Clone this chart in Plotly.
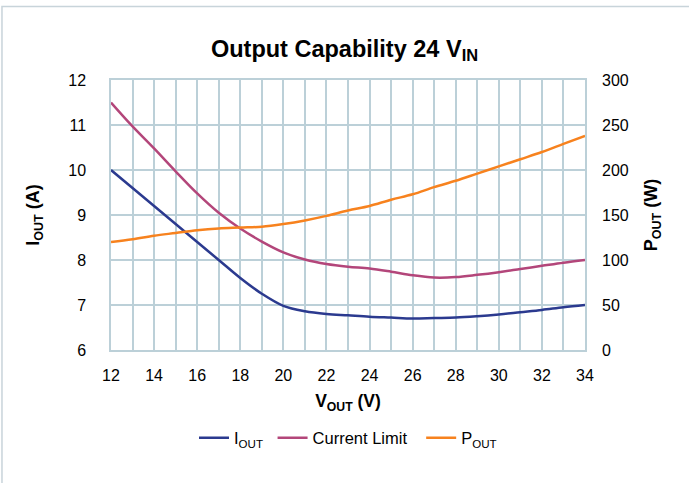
import plotly.graph_objects as go

v_out = [12, 13, 14, 15, 16, 17, 18, 19, 20, 21, 22, 23, 24, 25, 26, 27, 28, 29, 30, 31, 32, 33, 34]
i_out = [10.0, 9.6, 9.2, 8.8, 8.4, 8.0, 7.6, 7.25, 6.98, 6.86, 6.80, 6.77, 6.74, 6.72, 6.70, 6.71, 6.72, 6.75, 6.79, 6.84, 6.89, 6.95, 7.0]
current_limit = [11.5, 10.97, 10.48, 9.97, 9.48, 9.05, 8.70, 8.41, 8.17, 8.01, 7.91, 7.85, 7.81, 7.74, 7.66, 7.61, 7.62, 7.67, 7.73, 7.80, 7.87, 7.94, 8.0]
p_out = [120, 123, 127, 130, 133, 135, 136, 137, 140, 144, 149, 155, 160, 167, 173, 181, 188, 196, 204, 212, 220, 229, 238]

x_ticks = list(range(12, 35, 2))
left_ticks = [6, 7, 8, 9, 10, 11, 12]
right_ticks = [0, 50, 100, 150, 200, 250, 300]

GRID = "#BCD0D8"
FONT = "Liberation Sans, Arial, sans-serif"

fig = go.Figure()
fig.add_trace(go.Scatter(x=v_out, y=i_out, name="I<sub>OUT</sub> ", mode="lines",
                         line=dict(color="#2B3A8F", width=2.5, shape="spline")))
fig.add_trace(go.Scatter(x=v_out, y=current_limit, name="Current Limit  ", mode="lines",
                         line=dict(color="#B3467A", width=2.5, shape="spline")))
fig.add_trace(go.Scatter(x=v_out, y=p_out, name="P<sub>OUT</sub>", mode="lines", yaxis="y2",
                         line=dict(color="#F7821E", width=2.5, shape="spline")))

fig.update_layout(
    width=689, height=483,
    paper_bgcolor="white", plot_bgcolor="white",
    font=dict(family=FONT, color="black", size=16),
    margin=dict(l=111, r=104, t=80, b=133),
    title=dict(text="<b>Output Capability 24 V<sub>IN</sub></b>", x=0.5, xanchor="center",
               y=0.90, yanchor="middle", font=dict(size=23.5, family=FONT)),
    xaxis=dict(range=[12, 34], tickvals=x_ticks, showgrid=True, gridcolor=GRID, gridwidth=1.5,
               minor=dict(dtick=1, tick0=12, showgrid=True, gridcolor=GRID, gridwidth=1.5),
               showline=True, linecolor=GRID, linewidth=1.5, mirror=True, zeroline=False,
               ticks="", ticklabelstandoff=10,
               title=dict(text="<b>V<sub>OUT</sub> (V)</b>", font=dict(size=17.5), standoff=12)),
    yaxis=dict(range=[6, 12], tickvals=left_ticks, showgrid=True, gridcolor=GRID, gridwidth=1.5,
               showline=True, linecolor=GRID, linewidth=1.5, mirror=True, zeroline=False,
               ticks="", ticklabelstandoff=20,
               title=dict(text="<b>I<sub>OUT</sub> (A)</b>", font=dict(size=18), standoff=24)),
    yaxis2=dict(range=[0, 300], tickvals=right_ticks, overlaying="y", side="right",
                showgrid=False, zeroline=False, ticks="", ticklabelstandoff=16,
                title=dict(text="<b>P<sub>OUT</sub> (W)</b>", font=dict(size=18), standoff=16)),
    legend=dict(orientation="h", x=0.5, xanchor="center", y=-0.326, yanchor="middle",
                font=dict(size=16.5), bgcolor="rgba(0,0,0,0)", itemwidth=30),
    showlegend=True,
)

fig.add_shape(type="rect", xref="paper", yref="paper", x0=-0.23, x1=1.25, y0=-0.55, y1=1.272,
              line=dict(color="#C8D4DA", width=1.5), fillcolor="rgba(0,0,0,0)", layer="below")

fig.write_html("out.html", config={"displayModeBar": False},
               post_script="document.body.style.margin='0px';")
